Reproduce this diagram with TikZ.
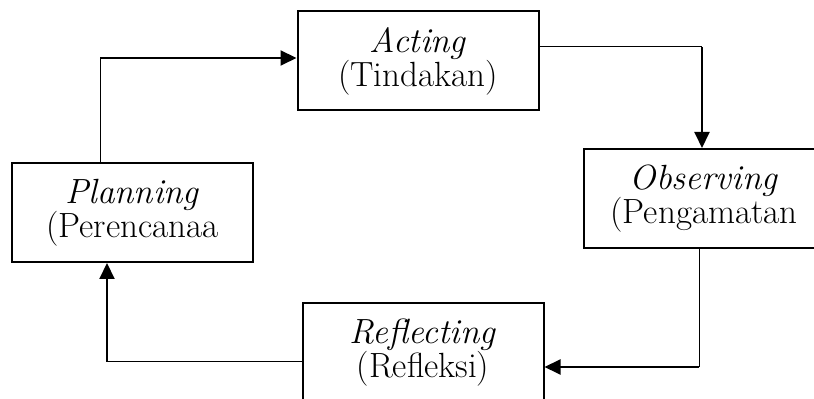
\documentclass[tikz,border=0pt]{standalone}
\usepackage{fontspec}
\usepackage{tikz}
\usetikzlibrary{arrows.meta}

\begin{document}
\begin{tikzpicture}[x=0.5pt,y=-0.5pt,
		stage/.style={draw,line width=1pt,minimum width=120.5pt,minimum height=49.5pt,inner sep=0pt,align=center,font=\fontsize{17.5}{17}\selectfont},
		link/.style={line width=0.5pt},
		linkarrow/.style={line width=1pt,-{Triangle[length=8pt,width=7.5pt]}}]
		\useasboundingbox (0,0) rectangle (814,399);
		
		% cycle boxes
		\node[stage] (act) at (418,61) {\textit{Acting}\\(Tindakan)};
		\node[stage] (obs) at (704,198.5) {\textit{Observing}\\(Pengamatan};
		\node[stage] (refl) at (423,352.5) {\textit{Reflecting}\\(Refleksi)};
		\node[stage] (plan) at (132.5,212.5) {\textit{Planning}\\(Perencanaa};
		
		% corners of the connectors
		\coordinate (c1) at (100,58);
		\coordinate (c2) at (702,47);
		\coordinate (c3) at (699,367);
		\coordinate (c4) at (107,362);
		
		% planning to acting
		\draw[link] (plan.north -| c1) -- (c1);
		\draw[linkarrow] (c1) -- (c1 -| act.west);
		
		% acting to observing
		\draw[link] (act.east |- c2) -- (c2);
		\draw[linkarrow] (c2) -- (c2 |- obs.north);
		
		% observing to reflecting
		\draw[link] (obs.south -| c3) -- (c3);
		\draw[linkarrow] (c3) -- (c3 -| refl.east);
		
		% reflecting to planning
		\draw[link] (refl.west |- c4) -- (c4);
		\draw[linkarrow] (c4) -- (c4 |- plan.south);
	\end{tikzpicture}
\end{document}
